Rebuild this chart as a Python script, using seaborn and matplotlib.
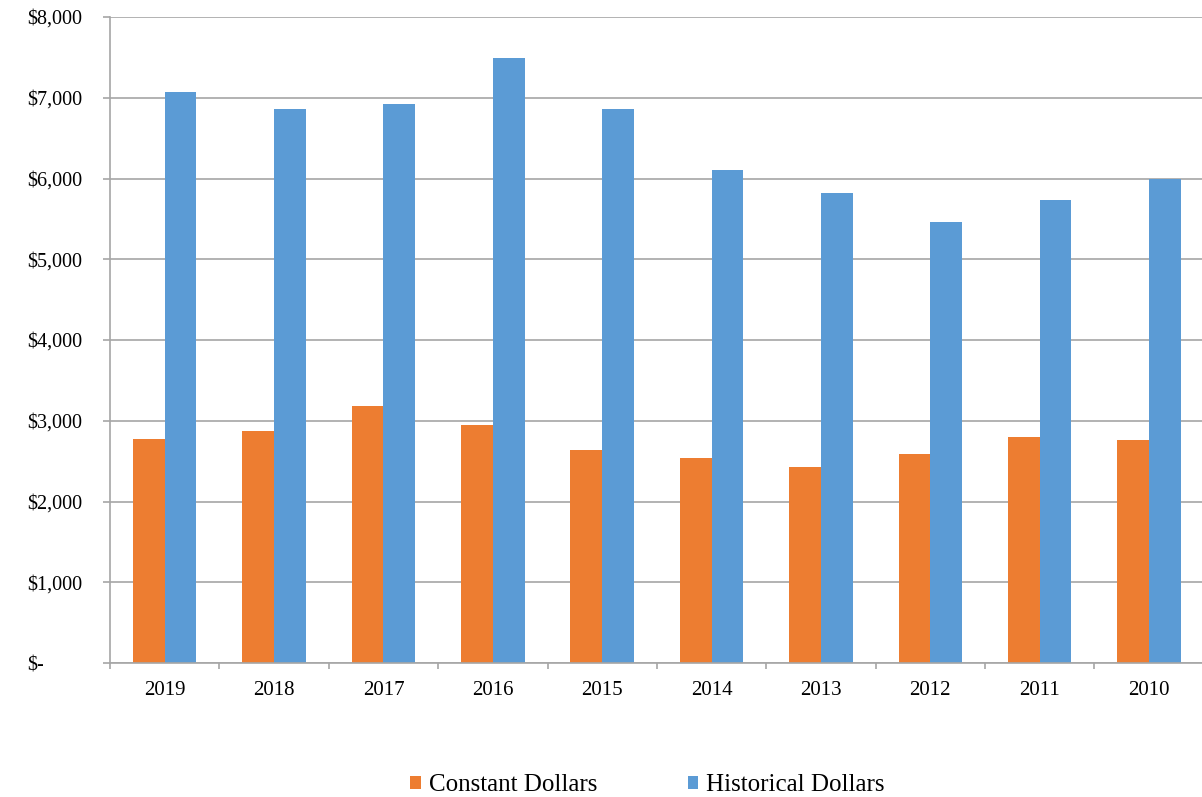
import numpy as np
import pandas as pd
import seaborn as sns
import matplotlib.pyplot as plt
from matplotlib.ticker import FuncFormatter, MultipleLocator

years = ['2019', '2018', '2017', '2016', '2015', '2014', '2013', '2012', '2011', '2010']
constant = [2780, 2870, 3180, 2945, 2635, 2545, 2425, 2590, 2800, 2760]
historical = [7065, 6855, 6925, 7490, 6855, 6100, 5815, 5465, 5730, 5990]
series = ['Constant Dollars', 'Historical Dollars']
colors = ['#ED7D31', '#5B9BD5']

df = pd.DataFrame({
    'Year': years * 2,
    'Value': constant + historical,
    'Series': [series[0]] * len(years) + [series[1]] * len(years),
})

sns.set_style('white')
plt.rcParams['font.family'] = ['Liberation Serif', 'DejaVu Serif']
plt.rcParams['text.color'] = 'black'
plt.rcParams['xtick.labelcolor'] = 'black'
plt.rcParams['ytick.labelcolor'] = 'black'

fig = plt.figure(figsize=(12.02, 7.97), dpi=100)
ax = fig.add_axes([0.0915, 0.168, 0.910, 0.8107])

sns.barplot(data=df, x='Year', y='Value', hue='Series', order=years,
            hue_order=series, palette=colors, width=0.58, gap=0,
            linewidth=0, saturation=1, ax=ax)

ax.set_ylim(0, 8000)
ax.set_xlim(-0.5, 9.5)
ax.yaxis.set_major_locator(MultipleLocator(1000))
ax.yaxis.set_major_formatter(FuncFormatter(lambda v, p: '$-' if v == 0 else '${:,.0f}'.format(v)))
ax.grid(axis='y', color='#A6A6A6', linewidth=1.2)
ax.set_axisbelow(True)

for s in ['top', 'right']:
    ax.spines[s].set_visible(False)
for s in ['left', 'bottom']:
    ax.spines[s].set_color('#A6A6A6')
    ax.spines[s].set_linewidth(1.2)

ax.set_xticks(np.arange(-0.5, 10, 1), minor=True)
ax.tick_params(axis='x', which='major', length=0, pad=13, labelsize=15, labelcolor='black')
ax.tick_params(axis='x', which='minor', length=4, color='#A6A6A6', width=1.2, direction='out', bottom=True)
ax.tick_params(axis='y', which='major', length=5, color='#A6A6A6', width=1.2, direction='out', left=True,
               pad=54.5, labelsize=14.5, labelcolor='black')
for lab in ax.get_yticklabels():
    lab.set_horizontalalignment('left')

ax.set_xlabel('')
ax.set_ylabel('')

handles, labels = ax.get_legend_handles_labels()
ax.get_legend().remove()
fig.legend(handles, labels, loc='center', bbox_to_anchor=(0.5387, 0.0145), ncol=2, frameon=False,
           fontsize=18, handlelength=0.42, handleheight=0.42, handletextpad=0.32, columnspacing=3.64)

fig.savefig('out.png', dpi=100)
